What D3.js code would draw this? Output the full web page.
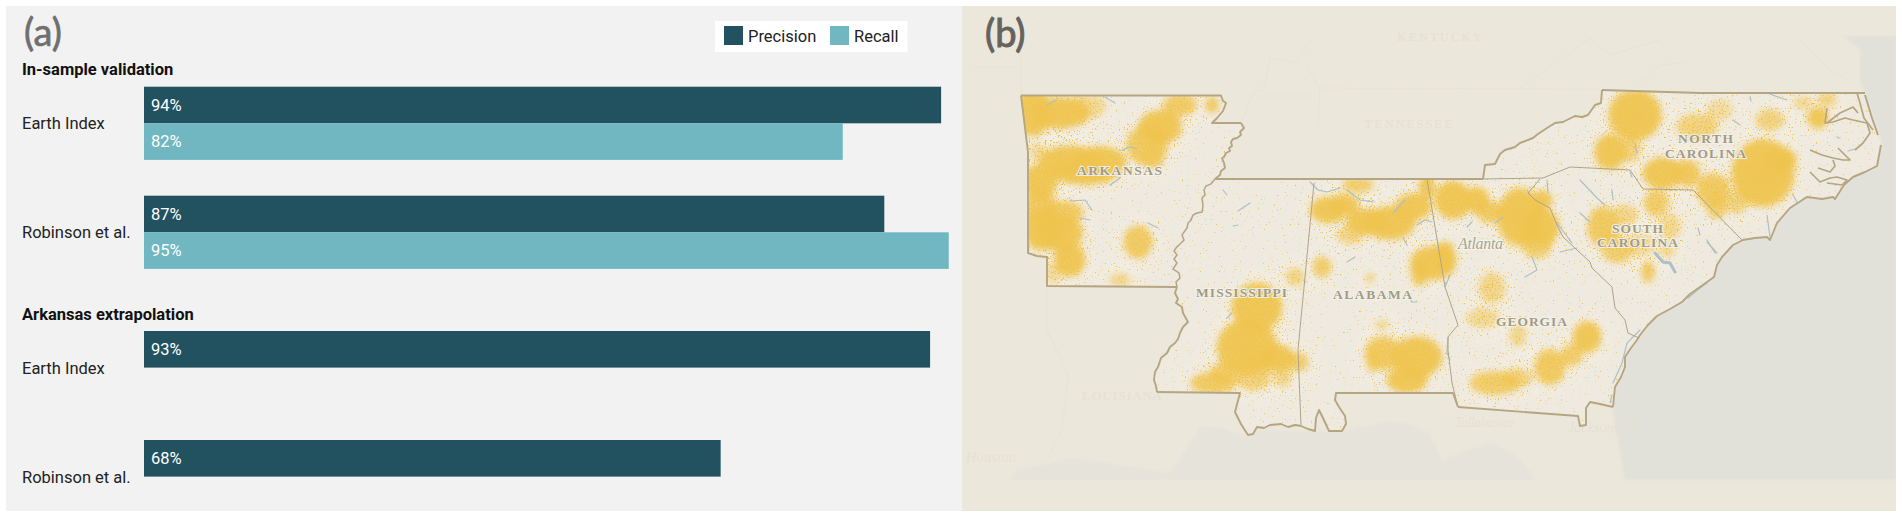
<!DOCTYPE html>
<html><head><meta charset="utf-8">
<script src="https://cdn.jsdelivr.net/npm/d3@7/dist/d3.min.js"></script>
<style>html,body{margin:0;padding:0;background:#fff;overflow:hidden}svg{display:block;font-family:Roboto,sans-serif}</style>
</head><body><svg id="chart" width="1902" height="517"></svg>
<script>
// ---------- bar chart data ----------
const methods = ["Earth Index", "Robinson et al."];
const inSamplePrecision = [94, 87.3];
const inSampleRecall = [82.4, 94.9];
const arkansasPrecision = [92.7, 68];
const legendItems = ["Precision", "Recall"];
const sectionTitles = ["In-sample validation", "Arkansas extrapolation"];

// ---------- map data (map-plane units) ----------
const arNorth = [[1021,95.5],[1221,95.5],[1223,101],[1226,103],[1223,111],[1217,118],[1212,123],[1241,123]];
const riverTop = [[1241,123],[1244,128],[1240,132],[1241,135],[1237,138],[1233,139],[1231,142],[1232,146],[1229,148],[1230,151],[1226,153],[1224,157],[1222,158],[1224,163],[1225,168],[1221,171],[1220,175],[1215,179]];
const riverAr = [[1215,179],[1211,184],[1206,186],[1204,190],[1205,195],[1202,198],[1203,206],[1202,212],[1197,213],[1193,215],[1191,220],[1188,223],[1187,228],[1182,235],[1184,240],[1180,244],[1176,248],[1174,251],[1177,255],[1174,259],[1177,263],[1173,269],[1179,273],[1180,278],[1176,282],[1177,287]];
const riverMs = [[1177,287],[1175,293],[1178,299],[1176,303],[1182,307],[1183,313],[1188,322],[1183,327],[1180,333],[1178,339],[1175,343],[1170,347],[1167,353],[1161,358],[1158,367],[1155,372],[1154,380],[1156,386],[1157,392]];
const laLine = [[1157,392],[1240,393],[1235,412],[1241,424],[1248,435],[1253,434],[1257,427],[1264,428],[1270,425],[1281,424],[1288,427],[1295,425],[1301,426]];
const alCoast = [[1301,426],[1308,429],[1315,431],[1316,418],[1319,410],[1323,418],[1329,431],[1342,431],[1346,424],[1345,416],[1339,407],[1335,400],[1336,393],[1453,393],[1458,407]];
const gaSouth = [[1458,407],[1578,416],[1580,426],[1586,425],[1586,408],[1590,402],[1600,404],[1613,407]];
const atlanticCoast = [[1613,407],[1615,387],[1621,377],[1625,367],[1625,357],[1631,348],[1637,340],[1640,335],[1648,325],[1657,316],[1670,309],[1682,302],[1690,294],[1700,287],[1714,277],[1717,265],[1722,257],[1733,245],[1743,240],[1755,238],[1767,237],[1770,240],[1777,223],[1790,208],[1807,197],[1822,199],[1833,197],[1835,199],[1844,185],[1853,177],[1865,172],[1877,166],[1881,145]];
const outerBanks = [[1878,135],[1872,118],[1865,95]];
const ncNorth = [[1865,93],[1700,93],[1602,90]];
const ncWest = [[1602,90],[1601,103],[1595,105],[1588,115],[1582,117],[1575,116],[1563,122],[1555,123],[1547,128],[1538,134],[1533,138],[1520,143],[1515,147],[1505,150],[1500,154],[1495,164],[1485,165],[1483,179]];
const tnLine = [[1215,179],[1483,179]];
const arWest = [[1177,287],[1047,286],[1047,257],[1037,256],[1028,253],[1028,175],[1028,152],[1021,95.5]];
const msAl = [[1314,183],[1298,350],[1301,426]];
const alGa = [[1427,179],[1445,287],[1458,325],[1448,337],[1448,350],[1452,383],[1458,407]];
const ncSc = [[1483,179],[1543,178],[1570,167],[1630,170],[1643,189],[1693,190],[1743,241]];
const gaSc = [[1540,179],[1528,193],[1535,200],[1550,208],[1557,225],[1563,237],[1577,250],[1590,262],[1592,268],[1612,287],[1615,308],[1625,320],[1628,333],[1639,338]];
const soundLines = [
 [[1827,108],[1825,123],[1833,122],[1845,118],[1853,120],[1867,123],[1870,133],[1863,143],[1855,150]],
 [[1810,150],[1822,155],[1833,158],[1843,160],[1850,160],[1838,148]],
 [[1810,172],[1820,182],[1830,178],[1837,177],[1847,180],[1842,185],[1827,183]],
 [[1833,160],[1835,166],[1830,172],[1818,168]],
 [[1857,93],[1860,103],[1864,118],[1873,130]],
 [[1827,123],[1840,113],[1853,107],[1858,113]]
];
const waterLines = [
 [[1105,97],[1110,100],[1115,103]],[[1047,105],[1052,102],[1057,100]],[[1122,150],[1130,147],[1137,149]],[[1110,185],[1116,181],[1120,178]],
 [[1070,201],[1085,200],[1092,210]],[[1080,218],[1090,220]],[[1148,223],[1158,228]],[[1223,190],[1227,195]],[[1238,211],[1250,203]],[[1233,226],[1238,225]],
 [[1310,182],[1318,190],[1327,192],[1340,188]],[[1347,190],[1360,200],[1373,202]],[[1393,213],[1405,200]],[[1417,225],[1425,220],[1432,222]],[[1403,238],[1407,245]],
 [[1408,295],[1412,302],[1417,302]],[[1347,262],[1355,257]],[[1227,318],[1232,313]],[[1445,287],[1450,275]],[[1448,337],[1447,353],[1450,360]],
 [[1495,223],[1503,217]],[[1467,227],[1472,222]],[[1547,180],[1548,193]],[[1532,257],[1537,270],[1525,277]],[[1560,252],[1577,248]],[[1557,223],[1572,243]],[[1580,213],[1590,222]],
 [[1580,180],[1597,198],[1605,205]],[[1612,190],[1613,200]],[[1688,298],[1700,288],[1707,283]],[[1715,253],[1707,240]],[[1613,383],[1622,363],[1627,343],[1640,330]],[[1610,403],[1612,395]],
 [[1635,143],[1637,153]],[[1630,172],[1632,177]],[[1733,120],[1740,125]],[[1750,97],[1751,101]],[[1767,93],[1787,100]],[[1837,137],[1840,138]],[[1848,151],[1855,149]],
 [[1767,215],[1770,237]],[[1793,195],[1797,202]],[[1707,242],[1717,253]],[[1698,228],[1700,235]]
];
const wideWater = [[[1655,253],[1663,262],[1670,263],[1675,272]]];
const gulf = [[1009,480],[1018,470],[1072,458],[1139,468],[1170,473],[1201,427],[1219,427],[1246,437],[1255,430],[1339,432],[1384,422],[1406,423],[1429,433],[1442,460],[1491,442],[1518,457],[1536,480]];
const atlantic = [[1625,480],[1614,420],[1613,407]].concat(atlanticCoast.slice(1),[[1881,140],[1865,93],[1860,83],[1860,50],[1843,36],[1896,36],[1896,480]]);
const faintLines = [
 [[1320,88],[1600,89]],[[1255,96],[1320,96]],[[1242,120],[1252,95],[1265,85],[1270,58],[1295,62],[1312,40]],[[1307,65],[1320,90],[1318,130]],
 [[1021,36],[1021,95]],[[972,67],[1021,67]],[[1047,286],[1047,330],[1068,375],[1062,430],[1048,458]],
 [[1520,88],[1560,60],[1590,38],[1610,55],[1660,40]],[[1635,88],[1660,65],[1690,62]],[[1800,40],[1830,70],[1850,80]]
];
// hotspots: x, y, rx, ry, strength
const hotspots = [
 [1033,112,14,19,1],[1060,113,24,12,1],[1087,106,15,9,.55],[1180,105,13,8,.9],[1212,105,5,6,.9],[1160,127,17,13,1],[1147,145,16,16,.9],[1153,158,8,9,.7],
 [1070,160,24,11,1],[1100,162,21,12,1],[1085,174,26,8,1],[1040,182,13,14,1],[1037,152,6,7,.5],[1040,207,13,12,.9],[1063,213,16,9,.9],[1043,230,16,16,1],[1060,233,18,14,1],[1070,260,12,13,1],
 [1138,242,11,13,.9],[1053,273,6,8,.5],[1120,280,8,5,.6],
 [1257,307,20,19,1],[1247,347,24,22,1],[1277,358,14,10,1],[1298,362,8,7,.85],[1213,383,18,8,.9],[1223,373,10,8,.8],[1283,377,6,8,.6],[1253,377,14,10,.7],[1295,277,7,7,.65],[1322,267,7,8,.85],[1370,278,3,3,.7],
 [1328,210,14,10,1],[1343,205,12,8,1],[1358,185,12,6,.8],[1367,222,16,10,1],[1390,223,20,13,1],[1413,207,14,10,1],[1427,187,6,9,1],[1350,235,10,7,.6],[1433,263,18,13,1],[1420,273,7,10,.9],
 [1383,353,14,13,.9],[1417,357,20,16,1],[1407,380,16,10,1],[1373,360,5,10,.7],[1382,325,5,3,.6],
 [1453,200,14,15,1],[1477,200,9,10,1],[1490,212,10,8,.9],[1520,217,18,23,1],[1540,227,15,15,1],[1537,243,12,12,.8],[1542,200,8,7,1],[1445,257,8,12,1],[1492,288,10,12,.6],[1483,318,13,7,.55],[1518,335,6,9,.6],
 [1587,337,11,12,1],[1572,355,8,8,.85],[1550,367,12,14,.9],[1495,383,20,9,.85],[1517,378,12,7,.7],[1603,227,12,16,.9],[1617,250,12,10,.8],[1648,272,5,8,.9],[1670,227,8,10,.55],[1657,203,10,10,.55],[1667,250,6,5,.6],[1640,245,12,8,.55],[1625,215,10,8,.6],
 [1635,115,21,20,1],[1610,152,12,14,1],[1630,150,8,9,.7],[1663,173,16,12,1],[1687,173,10,10,.95],[1697,127,16,10,.7],[1720,110,10,8,.45],[1763,173,25,27,1],[1780,160,13,10,.95],[1713,190,13,13,.9],[1717,208,8,8,.8],[1737,203,8,8,.65],[1655,203,8,10,.6],
 [1770,120,11,8,.7],[1818,118,8,8,1],[1827,100,7,5,.7],[1803,103,7,5,.55]
];
const stateLabels = [
 {lines:["ARKANSAS"],x:[1077],w:[85],y:[175]},
 {lines:["MISSISSIPPI"],x:[1196],w:[91],y:[297]},
 {lines:["ALABAMA"],x:[1333],w:[79],y:[299]},
 {lines:["GEORGIA"],x:[1496],w:[71],y:[326]},
 {lines:["SOUTH","CAROLINA"],x:[1612,1597],w:[51,81],y:[233,247]},
 {lines:["NORTH","CAROLINA"],x:[1678,1665],w:[55,81],y:[143,158]}
];
const faintLabels = [
 {t:"TENNESSEE",x:1364,y:128,w:89,it:false},{t:"KENTUCKY",x:1397,y:41,w:85,it:false},{t:"LOUISIANA",x:1082,y:400,w:80,it:false},
 {t:"Tallahassee",x:1455,y:427,w:60,it:true},{t:"Jacksonville",x:1568,y:432,w:70,it:true},{t:"Houston",x:966,y:462,w:50,it:true}
];

// ---------- colours ----------
const darkTeal="#225260", lightTeal="#70b7c1", yellow="#efc44f", border="#b5a581";
const svg=d3.select("#chart");

// ---------- panel (a) ----------
svg.append("rect").attr("x",6).attr("y",6).attr("width",958).attr("height",505).attr("fill","#f2f2f2");
const x=d3.scaleLinear().domain([0,100]).range([144,992]);
const rowA=d3.scalePoint().domain(methods).range([86.7,195.7]);
const rowB=d3.scalePoint().domain(methods).range([331,440]);
const barH=36.6;
const barsData=[];
methods.forEach((m,i)=>{
  barsData.push({y:rowA(m),v:inSamplePrecision[i],c:darkTeal});
  barsData.push({y:rowA(m)+barH,v:inSampleRecall[i],c:lightTeal});
  barsData.push({y:rowB(m),v:arkansasPrecision[i],c:darkTeal});
});
const gb=svg.append("g");
gb.selectAll("rect").data(barsData).join("rect").attr("x",x(0)).attr("y",d=>d.y).attr("width",d=>x(d.v)-x(0)).attr("height",barH).attr("fill",d=>d.c);
gb.selectAll("text").data(barsData).join("text").attr("x",x(0)+7).attr("y",d=>d.y+23.8).attr("fill","#fff").attr("font-size",16.5).text(d=>Math.round(d.v)+"%");
svg.append("g").selectAll("text").data(methods.flatMap(m=>[{m,y:rowA(m)+42},{m,y:rowB(m)+42.5}])).join("text")
  .attr("x",22).attr("y",d=>d.y).attr("font-size",16.5).attr("fill","#222").text(d=>d.m);
svg.append("g").selectAll("text").data(sectionTitles).join("text").attr("x",22).attr("y",(d,i)=>[75,319.5][i])
  .attr("font-size",16.5).attr("font-weight",700).attr("fill","#111").text(d=>d);
svg.append("rect").attr("x",715).attr("y",21).attr("width",192.5).attr("height",31).attr("fill","#fff");
const lx=d3.scalePoint().domain(legendItems).range([724,830]);
const lg=svg.append("g").selectAll("g").data(legendItems).join("g");
lg.append("rect").attr("x",d=>lx(d)).attr("y",26).attr("width",19).attr("height",19).attr("fill",(d,i)=>[darkTeal,lightTeal][i]);
lg.append("text").attr("x",d=>lx(d)+24).attr("y",41.5).attr("font-size",16.5).attr("fill","#222").text(d=>d);

// ---------- panel (b) ----------
const geo=d3.geoPath(d3.geoIdentity());
const lineF=c=>({type:"LineString",coordinates:c});
const polyF=c=>({type:"Polygon",coordinates:[c.concat([c[0]])]});
svg.append("rect").attr("x",962).attr("y",6).attr("width",934).attr("height",505).attr("fill","#ece7db");
const defs=svg.append("defs");
const fr={x:962,y:6,width:934,height:505,filterUnits:"userSpaceOnUse"};
function mk(id){const f=defs.append("filter").attr("id",id).attr("color-interpolation-filters","sRGB");Object.entries(fr).forEach(([k,v])=>f.attr(k,v));return f;}
mk("b1").append("feGaussianBlur").attr("stdDeviation",1);
mk("soft").append("feGaussianBlur").attr("stdDeviation",3);
mk("halo").append("feGaussianBlur").attr("stdDeviation",9);
const st=mk("stipple");
st.append("feGaussianBlur").attr("in","SourceAlpha").attr("stdDeviation",11).attr("result","wide");
st.append("feTurbulence").attr("type","fractalNoise").attr("baseFrequency",.62).attr("numOctaves",1).attr("seed",7).attr("result","noise");
st.append("feColorMatrix").attr("in","noise").attr("type","matrix").attr("values","0 0 0 0 0 0 0 0 0 0 0 0 0 0 0 1 0 0 0 0").attr("result","na");
st.append("feComposite").attr("in","wide").attr("in2","na").attr("operator","arithmetic").attr("k1",0).attr("k2",.22).attr("k3",1).attr("k4",-.685).attr("result","sum");
const ct=st.append("feComponentTransfer").attr("in","sum").attr("result","dots");
ct.append("feFuncA").attr("type","linear").attr("slope",12).attr("intercept",0);
st.append("feFlood").attr("flood-color","#eec450").attr("result","col");
st.append("feComposite").attr("in","col").attr("in2","dots").attr("operator","in");

const oceanG=svg.append("g").attr("filter","url(#b1)");
oceanG.selectAll("path").data([gulf,atlantic]).join("path").attr("d",d=>geo(polyF(d))).attr("fill",(d,i)=>["#e5e3da","#e2e1d9"][i]);
svg.append("g").selectAll("path").data(faintLines).join("path").attr("d",d=>geo(lineF(d))).attr("fill","none").attr("stroke","#e8e3d7").attr("stroke-width",1);
svg.append("g").selectAll("text").data(faintLabels).join("text").attr("x",d=>d.x).attr("y",d=>d.y).attr("textLength",d=>d.w).attr("lengthAdjust","spacing")
  .style("font-family","'Liberation Serif',serif").attr("font-style",d=>d.it?"italic":"normal").attr("font-weight",d=>d.it?400:700).attr("font-size",d=>d.it?14:13).attr("fill","#e6e1d5").text(d=>d.t);

const outer=[].concat(arNorth,riverTop,tnLine,ncWest.slice().reverse(),ncNorth.slice().reverse(),outerBanks.slice().reverse(),atlanticCoast.slice().reverse(),gaSouth.slice().reverse(),alCoast.slice().reverse(),laLine.slice().reverse(),riverMs.slice().reverse(),arWest);
defs.append("clipPath").attr("id","study").append("path").attr("d",geo(polyF(outer)));
svg.append("path").attr("d",geo(polyF(outer))).attr("fill","#efeadf");
const gc=svg.append("g").attr("clip-path","url(#study)");
const grow=1.22, pad=1;
const drawBlobs=(g,op)=>g.selectAll("ellipse").data(hotspots).join("ellipse").attr("cx",d=>d[0]).attr("cy",d=>d[1]).attr("rx",d=>d[2]*grow+pad).attr("ry",d=>d[3]*grow+pad).attr("fill",yellow).attr("fill-opacity",op);
const haloG=gc.append("g").attr("filter","url(#halo)").attr("opacity",.6);
haloG.selectAll("ellipse").data(hotspots).join("ellipse").attr("cx",d=>d[0]).attr("cy",d=>d[1]).attr("rx",d=>d[2]*grow+8).attr("ry",d=>d[3]*grow+8).attr("fill","#f6f2e8");
drawBlobs(gc.append("g").attr("filter","url(#stipple)"),1);
drawBlobs(gc.append("g").attr("filter","url(#soft)"),d=>d[4]*.92);

svg.append("g").selectAll("path").data(waterLines).join("path").attr("d",d=>geo(lineF(d))).attr("fill","none").attr("stroke","#aebfc6").attr("stroke-width",1.2).attr("stroke-linecap","round");
svg.append("g").selectAll("path").data(wideWater).join("path").attr("d",d=>geo(lineF(d))).attr("fill","none").attr("stroke","#aebfc6").attr("stroke-width",3).attr("stroke-linecap","round");

const thin=[msAl,alGa,ncSc,gaSc];
svg.append("g").selectAll("path").data(thin).join("path").attr("d",d=>geo(lineF(d))).attr("fill","none").attr("stroke","#aea48c").attr("stroke-width",1);
svg.append("g").selectAll("path").data([riverAr]).join("path").attr("d",d=>geo(lineF(d))).attr("fill","none").attr("stroke",border).attr("stroke-width",1.5);
const thick=[arNorth,riverTop,tnLine,ncWest,ncNorth,outerBanks,atlanticCoast,gaSouth,alCoast,laLine,riverMs,arWest];
svg.append("g").selectAll("path").data(thick).join("path").attr("d",d=>geo(lineF(d))).attr("fill","none").attr("stroke",border).attr("stroke-width",1.9).attr("stroke-linejoin","round");
svg.append("g").selectAll("path").data(soundLines).join("path").attr("d",d=>geo(lineF(d))).attr("fill","none").attr("stroke",border).attr("stroke-width",1.7).attr("stroke-linejoin","round");

const labs=stateLabels.flatMap(s=>s.lines.map((t,i)=>({t,x:s.x[i],y:s.y[i],w:s.w[i]})));
svg.append("g").selectAll("text").data(labs).join("text").attr("x",d=>d.x).attr("y",d=>d.y).attr("textLength",d=>d.w).attr("lengthAdjust","spacing")
  .style("font-family","'Liberation Serif',serif").attr("font-weight",700).attr("font-size",13.5).attr("fill","#a19b86")
  .attr("stroke","#f6f3ea").attr("stroke-width",2.2).attr("stroke-opacity",.85).attr("paint-order","stroke").text(d=>d.t);
svg.append("text").attr("x",1458).attr("y",249).attr("textLength",45).style("font-family","'Liberation Serif',serif").attr("font-style","italic").attr("font-size",16).attr("fill","#a8a390")
  .attr("stroke","#f6f3ea").attr("stroke-width",2).attr("paint-order","stroke").text("Atlanta");

svg.append("text").attr("x",24).attr("y",46).style("font-family","Lato").attr("font-size",38).attr("fill","#6f6f6f").attr("stroke","#6f6f6f").attr("stroke-width",.7).text("(a)");
svg.append("text").attr("x",985).attr("y",47).style("font-family","Lato").attr("font-size",38).attr("fill","#66635f").attr("stroke","#66635f").attr("stroke-width",1).text("(b)");
</script></body></html>
